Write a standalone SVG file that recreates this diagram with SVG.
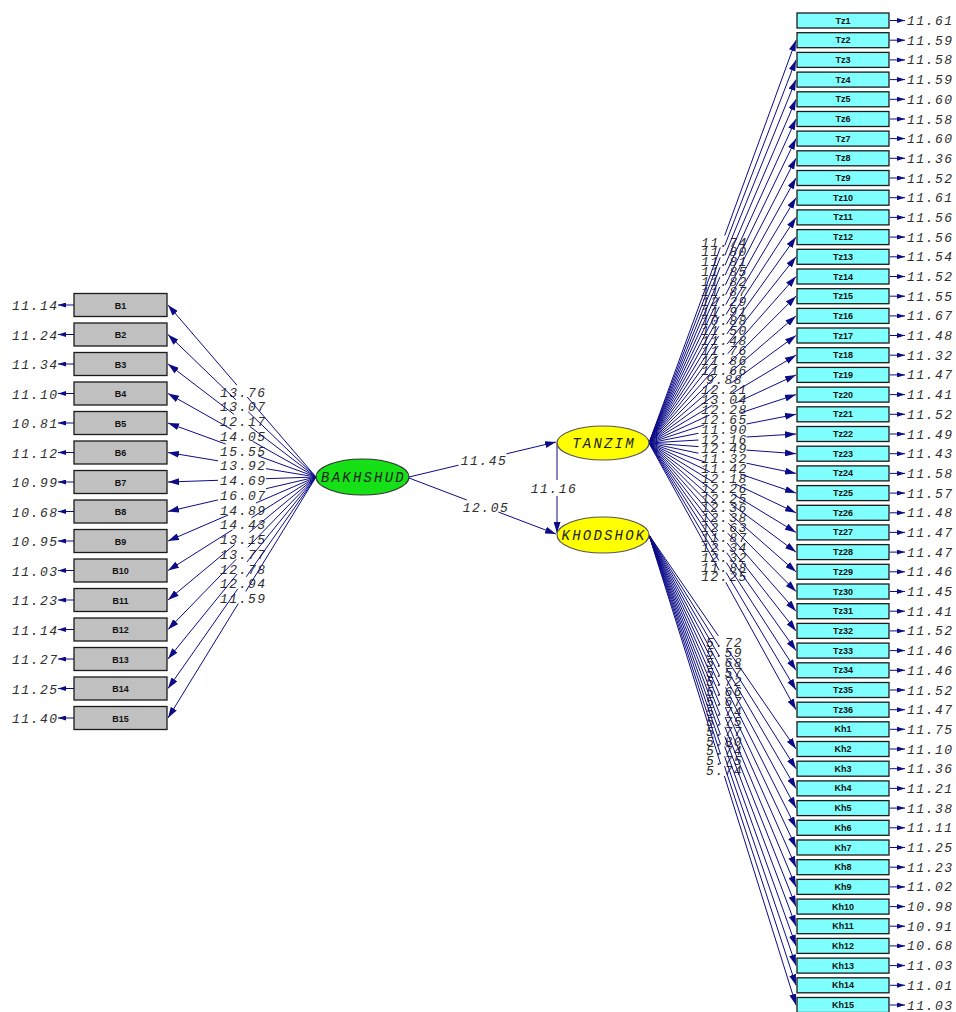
<svg xmlns="http://www.w3.org/2000/svg" width="956" height="1012" viewBox="0 0 956 1012">
<defs>
<style>
.ln{fill:none;stroke:#0c0c88;stroke-width:1}
.bx{fill:#c0c0c0;stroke:#1a1a1a;stroke-width:1.3}
.cx{fill:#80ffff;stroke:#1a1a1a;stroke-width:1.3}
.bl{font-family:"Liberation Sans",Arial,sans-serif;font-weight:bold;font-size:9px;fill:#111;text-anchor:middle}
.v{font-family:"Liberation Mono",monospace;font-style:italic;font-size:13px;letter-spacing:1.5px;fill:#2e2e2e}
.ve{text-anchor:end}
.vm{text-anchor:middle}
.el{font-family:"Liberation Mono",monospace;font-style:italic;font-size:14px;letter-spacing:2.2px;fill:#222;text-anchor:middle}
</style>
<marker id="ah" markerWidth="11" markerHeight="7" refX="11" refY="3.5" orient="auto" markerUnits="userSpaceOnUse"><path d="M0,0 L11,3.5 L0,7 z" fill="#0c0c88"/></marker>
<marker id="ae" markerWidth="8" markerHeight="5" refX="8" refY="2.5" orient="auto" markerUnits="userSpaceOnUse"><path d="M0,0 L8,2.5 L0,5 z" fill="#0c0c88"/></marker>
</defs>
<rect width="956" height="1012" fill="#ffffff"/>

<g id="path-labels" class="v vm">
<text x="243.3" y="396.5">13.76</text>
<text x="243.3" y="411.3">13.07</text>
<text x="243.3" y="426">12.17</text>
<text x="243.3" y="440.8">14.05</text>
<text x="243.3" y="455.5">15.55</text>
<text x="243.3" y="470.3">13.92</text>
<text x="243.3" y="485">14.69</text>
<text x="243.3" y="499.8">16.07</text>
<text x="243.3" y="514.5">14.89</text>
<text x="243.3" y="529.3">14.43</text>
<text x="243.3" y="544">13.15</text>
<text x="243.3" y="558.8">13.77</text>
<text x="243.3" y="573.5">12.78</text>
<text x="243.3" y="588.3">12.94</text>
<text x="243.3" y="603">11.59</text>
<text x="484" y="464.5">11.45</text>
<text x="486" y="511.5">12.05</text>
<text x="554" y="492.5">11.16</text>
<text x="724.5" y="246.6">11.74</text>
<text x="724.5" y="256.4">11.80</text>
<text x="724.5" y="266.3">11.81</text>
<text x="724.5" y="276.1">11.85</text>
<text x="724.5" y="286">11.82</text>
<text x="724.5" y="295.8">11.87</text>
<text x="724.5" y="305.7">12.29</text>
<text x="724.5" y="315.5">11.91</text>
<text x="724.5" y="325.4">10.88</text>
<text x="724.5" y="335.2">11.50</text>
<text x="724.5" y="345">11.48</text>
<text x="724.5" y="354.9">11.76</text>
<text x="724.5" y="364.7">11.86</text>
<text x="724.5" y="374.6">11.66</text>
<text x="724.5" y="384.4">9.88</text>
<text x="724.5" y="394.3">12.21</text>
<text x="724.5" y="404.1">13.04</text>
<text x="724.5" y="414">12.28</text>
<text x="724.5" y="423.8">12.65</text>
<text x="724.5" y="433.7">11.90</text>
<text x="724.5" y="443.5">12.16</text>
<text x="724.5" y="453.3">12.49</text>
<text x="724.5" y="463.2">11.32</text>
<text x="724.5" y="473">11.42</text>
<text x="724.5" y="482.9">12.18</text>
<text x="724.5" y="492.7">12.26</text>
<text x="724.5" y="502.6">12.25</text>
<text x="724.5" y="512.4">12.36</text>
<text x="724.5" y="522.3">12.38</text>
<text x="724.5" y="532.1">12.63</text>
<text x="724.5" y="542">11.87</text>
<text x="724.5" y="551.8">12.34</text>
<text x="724.5" y="561.6">12.32</text>
<text x="724.5" y="571.5">11.88</text>
<text x="724.5" y="581.3">12.25</text>
<text x="724.5" y="647">5.72</text>
<text x="724.5" y="656.9">5.59</text>
<text x="724.5" y="666.7">5.68</text>
<text x="724.5" y="676.6">5.57</text>
<text x="724.5" y="686.4">5.72</text>
<text x="724.5" y="696.2">5.66</text>
<text x="724.5" y="706.1">5.67</text>
<text x="724.5" y="715.9">5.74</text>
<text x="724.5" y="725.8">5.75</text>
<text x="724.5" y="735.6">5.77</text>
<text x="724.5" y="745.5">5.80</text>
<text x="724.5" y="755.3">5.74</text>
<text x="724.5" y="765.2">5.75</text>
<text x="724.5" y="775">5.74</text>
</g>

<g id="connectors" class="ln">
<path marker-end="url(#ah)" d="M316,477 L247.2,397 M236.8,385 L168,305"/>
<path marker-end="url(#ah)" d="M316,477 L248.2,411.8 M235.8,399.8 L168,334.5"/>
<path marker-end="url(#ah)" d="M316,477 L249.9,426.5 M234.1,414.5 L168,364"/>
<path marker-end="url(#ah)" d="M316,477 L252.6,441.3 M231.4,429.3 L168,393.5"/>
<path marker-end="url(#ah)" d="M316,477 L258.4,456 M225.6,444 L168,423"/>
<path marker-end="url(#ah)" d="M316,477 L266,468.7 M218,460.8 L168,452.5"/>
<path marker-end="url(#ah)" d="M316,477 L266,478.7 M218,480.3 L168,482"/>
<path marker-end="url(#ah)" d="M316,477 L266,488.7 M218,499.9 L168,511.5"/>
<path marker-end="url(#ah)" d="M316,477 L255.9,503 M228.1,515 L168,541"/>
<path marker-end="url(#ah)" d="M316,477 L251.5,517.8 M232.5,529.8 L168,570.5"/>
<path marker-end="url(#ah)" d="M316,477 L249.2,532.5 M234.8,544.5 L168,600"/>
<path marker-end="url(#ah)" d="M316,477 L247.8,547.3 M236.2,559.3 L168,629.5"/>
<path marker-end="url(#ah)" d="M316,477 L246.9,562 M237.1,574 L168,659"/>
<path marker-end="url(#ah)" d="M316,477 L246.2,576.8 M237.8,588.8 L168,688.5"/>
<path marker-end="url(#ah)" d="M316,477 L245.7,591.5 M238.3,603.5 L168,718"/>

<path marker-end="url(#ah)" d="M409,477 L458.5,465.2 M506.5,453.8 L556,442"/>
<path marker-end="url(#ah)" d="M409,478 L466.8,500 M498.3,512 L556,534"/>
<path marker-end="url(#ah)" d="M557,443 L557,480 M557,496 L557,533"/>

<path marker-end="url(#ah)" d="M649,443 L720.3,247.6 M724.7,235.6 L796,40.2"/>
<path marker-end="url(#ah)" d="M649,443 L720.2,257.4 M724.8,245.4 L796,59.9"/>
<path marker-end="url(#ah)" d="M649,443 L720.1,267.3 M724.9,255.3 L796,79.6"/>
<path marker-end="url(#ah)" d="M649,443 L719.9,277.1 M725.1,265.1 L796,99.3"/>
<path marker-end="url(#ah)" d="M649,443 L719.8,287 M725.2,275 L796,119"/>
<path marker-end="url(#ah)" d="M649,443 L719.6,296.8 M725.4,284.8 L796,138.6"/>
<path marker-end="url(#ah)" d="M649,443 L719.4,306.7 M725.6,294.7 L796,158.3"/>
<path marker-end="url(#ah)" d="M649,443 L719.2,316.5 M725.8,304.5 L796,178"/>
<path marker-end="url(#ah)" d="M649,443 L718.9,326.4 M726.1,314.4 L796,197.7"/>
<path marker-end="url(#ah)" d="M649,443 L718.6,336.2 M726.4,324.2 L796,217.4"/>
<path marker-end="url(#ah)" d="M649,443 L718.2,346 M726.8,334 L796,237.1"/>
<path marker-end="url(#ah)" d="M649,443 L717.8,355.9 M727.2,343.9 L796,256.8"/>
<path marker-end="url(#ah)" d="M649,443 L717.2,365.7 M727.8,353.7 L796,276.5"/>
<path marker-end="url(#ah)" d="M649,443 L716.5,375.6 M728.5,363.6 L796,296.2"/>
<path marker-end="url(#ah)" d="M649,443 L715.6,385.4 M729.4,373.4 L796,315.9"/>
<path marker-end="url(#ah)" d="M649,443 L714.3,395.3 M730.7,383.3 L796,335.5"/>
<path marker-end="url(#ah)" d="M649,443 L712.5,405.1 M732.6,393.1 L796,355.2"/>
<path marker-end="url(#ah)" d="M649,443 L709.5,415 M735.5,403 L796,374.9"/>
<path marker-end="url(#ah)" d="M649,443 L704.3,424.8 M740.7,412.8 L796,394.6"/>
<path marker-end="url(#ah)" d="M649,443 L698.5,433.3 M746.5,424 L796,414.3"/>
<path marker-end="url(#ah)" d="M649,443 L698.5,440 M746.5,437 L796,434"/>
<path marker-end="url(#ah)" d="M649,443 L698.5,446.6 M746.5,450.1 L796,453.7"/>
<path marker-end="url(#ah)" d="M649,443 L698.5,453.2 M746.5,463.2 L796,473.4"/>
<path marker-end="url(#ah)" d="M649,443 L704.9,462 M740.1,474 L796,493.1"/>
<path marker-end="url(#ah)" d="M649,443 L709.9,471.9 M735.2,483.9 L796,512.8"/>
<path marker-end="url(#ah)" d="M649,443 L712.6,481.7 M732.4,493.7 L796,532.4"/>
<path marker-end="url(#ah)" d="M649,443 L714.4,491.6 M730.6,503.6 L796,552.1"/>
<path marker-end="url(#ah)" d="M649,443 L715.7,501.4 M729.4,513.4 L796,571.8"/>
<path marker-end="url(#ah)" d="M649,443 L716.6,511.3 M728.4,523.3 L796,591.5"/>
<path marker-end="url(#ah)" d="M649,443 L717.3,521.1 M727.7,533.1 L796,611.2"/>
<path marker-end="url(#ah)" d="M649,443 L717.8,531 M727.2,543 L796,630.9"/>
<path marker-end="url(#ah)" d="M649,443 L718.3,540.8 M726.8,552.8 L796,650.6"/>
<path marker-end="url(#ah)" d="M649,443 L718.6,550.6 M726.4,562.6 L796,670.3"/>
<path marker-end="url(#ah)" d="M649,443 L718.9,560.5 M726.1,572.5 L796,690"/>
<path marker-end="url(#ah)" d="M649,443 L719.2,570.3 M725.8,582.3 L796,709.7"/>

<path marker-end="url(#ah)" d="M649,535 L718.4,636 M726.6,648 L796,749"/>
<path marker-end="url(#ah)" d="M649,535 L718.7,645.9 M726.3,657.9 L796,768.7"/>
<path marker-end="url(#ah)" d="M649,535 L719,655.7 M726,667.7 L796,788.4"/>
<path marker-end="url(#ah)" d="M649,535 L719.3,665.6 M725.7,677.6 L796,808.1"/>
<path marker-end="url(#ah)" d="M649,535 L719.5,675.4 M725.5,687.4 L796,827.8"/>
<path marker-end="url(#ah)" d="M649,535 L719.7,685.2 M725.3,697.2 L796,847.5"/>
<path marker-end="url(#ah)" d="M649,535 L719.8,695.1 M725.2,707.1 L796,867.2"/>
<path marker-end="url(#ah)" d="M649,535 L720,704.9 M725,716.9 L796,886.9"/>
<path marker-end="url(#ah)" d="M649,535 L720.1,714.8 M724.9,726.8 L796,906.6"/>
<path marker-end="url(#ah)" d="M649,535 L720.3,724.6 M724.8,736.6 L796,926.2"/>
<path marker-end="url(#ah)" d="M649,535 L720.4,734.5 M724.7,746.5 L796,945.9"/>
<path marker-end="url(#ah)" d="M649,535 L720.5,744.3 M724.6,756.3 L796,965.6"/>
<path marker-end="url(#ah)" d="M649,535 L720.5,754.2 M724.5,766.2 L796,985.3"/>
<path marker-end="url(#ah)" d="M649,535 L720.6,764 M724.4,776 L796,1005"/>

<g id="error-arrows-left">
<path marker-end="url(#ae)" d="M74,305 H58"/>
<path marker-end="url(#ae)" d="M74,334.5 H58"/>
<path marker-end="url(#ae)" d="M74,364 H58"/>
<path marker-end="url(#ae)" d="M74,393.5 H58"/>
<path marker-end="url(#ae)" d="M74,423 H58"/>
<path marker-end="url(#ae)" d="M74,452.5 H58"/>
<path marker-end="url(#ae)" d="M74,482 H58"/>
<path marker-end="url(#ae)" d="M74,511.5 H58"/>
<path marker-end="url(#ae)" d="M74,541 H58"/>
<path marker-end="url(#ae)" d="M74,570.5 H58"/>
<path marker-end="url(#ae)" d="M74,600 H58"/>
<path marker-end="url(#ae)" d="M74,629.5 H58"/>
<path marker-end="url(#ae)" d="M74,659 H58"/>
<path marker-end="url(#ae)" d="M74,688.5 H58"/>
<path marker-end="url(#ae)" d="M74,718 H58"/>
</g>
<g id="error-arrows-right">
<path marker-end="url(#ae)" d="M890,20.5 H905"/>
<path marker-end="url(#ae)" d="M890,40.2 H905"/>
<path marker-end="url(#ae)" d="M890,59.9 H905"/>
<path marker-end="url(#ae)" d="M890,79.6 H905"/>
<path marker-end="url(#ae)" d="M890,99.3 H905"/>
<path marker-end="url(#ae)" d="M890,119 H905"/>
<path marker-end="url(#ae)" d="M890,138.6 H905"/>
<path marker-end="url(#ae)" d="M890,158.3 H905"/>
<path marker-end="url(#ae)" d="M890,178 H905"/>
<path marker-end="url(#ae)" d="M890,197.7 H905"/>
<path marker-end="url(#ae)" d="M890,217.4 H905"/>
<path marker-end="url(#ae)" d="M890,237.1 H905"/>
<path marker-end="url(#ae)" d="M890,256.8 H905"/>
<path marker-end="url(#ae)" d="M890,276.5 H905"/>
<path marker-end="url(#ae)" d="M890,296.2 H905"/>
<path marker-end="url(#ae)" d="M890,315.9 H905"/>
<path marker-end="url(#ae)" d="M890,335.5 H905"/>
<path marker-end="url(#ae)" d="M890,355.2 H905"/>
<path marker-end="url(#ae)" d="M890,374.9 H905"/>
<path marker-end="url(#ae)" d="M890,394.6 H905"/>
<path marker-end="url(#ae)" d="M890,414.3 H905"/>
<path marker-end="url(#ae)" d="M890,434 H905"/>
<path marker-end="url(#ae)" d="M890,453.7 H905"/>
<path marker-end="url(#ae)" d="M890,473.4 H905"/>
<path marker-end="url(#ae)" d="M890,493.1 H905"/>
<path marker-end="url(#ae)" d="M890,512.8 H905"/>
<path marker-end="url(#ae)" d="M890,532.4 H905"/>
<path marker-end="url(#ae)" d="M890,552.1 H905"/>
<path marker-end="url(#ae)" d="M890,571.8 H905"/>
<path marker-end="url(#ae)" d="M890,591.5 H905"/>
<path marker-end="url(#ae)" d="M890,611.2 H905"/>
<path marker-end="url(#ae)" d="M890,630.9 H905"/>
<path marker-end="url(#ae)" d="M890,650.6 H905"/>
<path marker-end="url(#ae)" d="M890,670.3 H905"/>
<path marker-end="url(#ae)" d="M890,690 H905"/>
<path marker-end="url(#ae)" d="M890,709.7 H905"/>
<path marker-end="url(#ae)" d="M890,729.3 H905"/>
<path marker-end="url(#ae)" d="M890,749 H905"/>
<path marker-end="url(#ae)" d="M890,768.7 H905"/>
<path marker-end="url(#ae)" d="M890,788.4 H905"/>
<path marker-end="url(#ae)" d="M890,808.1 H905"/>
<path marker-end="url(#ae)" d="M890,827.8 H905"/>
<path marker-end="url(#ae)" d="M890,847.5 H905"/>
<path marker-end="url(#ae)" d="M890,867.2 H905"/>
<path marker-end="url(#ae)" d="M890,886.9 H905"/>
<path marker-end="url(#ae)" d="M890,906.6 H905"/>
<path marker-end="url(#ae)" d="M890,926.2 H905"/>
<path marker-end="url(#ae)" d="M890,945.9 H905"/>
<path marker-end="url(#ae)" d="M890,965.6 H905"/>
<path marker-end="url(#ae)" d="M890,985.3 H905"/>
<path marker-end="url(#ae)" d="M890,1005 H905"/>
</g>
</g>

<g id="error-values" class="v">
<g class="ve">
<text x="58.5" y="310">11.14</text>
<text x="58.5" y="339.5">11.24</text>
<text x="58.5" y="369">11.34</text>
<text x="58.5" y="398.5">11.10</text>
<text x="58.5" y="428">10.81</text>
<text x="58.5" y="457.5">11.12</text>
<text x="58.5" y="487">10.99</text>
<text x="58.5" y="516.5">10.68</text>
<text x="58.5" y="546">10.95</text>
<text x="58.5" y="575.5">11.03</text>
<text x="58.5" y="605">11.23</text>
<text x="58.5" y="634.5">11.14</text>
<text x="58.5" y="664">11.27</text>
<text x="58.5" y="693.5">11.25</text>
<text x="58.5" y="723">11.40</text>
</g>
<text x="907" y="25">11.61</text>
<text x="907" y="44.7">11.59</text>
<text x="907" y="64.4">11.58</text>
<text x="907" y="84.1">11.59</text>
<text x="907" y="103.8">11.60</text>
<text x="907" y="123.5">11.58</text>
<text x="907" y="143.1">11.60</text>
<text x="907" y="162.8">11.36</text>
<text x="907" y="182.5">11.52</text>
<text x="907" y="202.2">11.61</text>
<text x="907" y="221.9">11.56</text>
<text x="907" y="241.6">11.56</text>
<text x="907" y="261.3">11.54</text>
<text x="907" y="281">11.52</text>
<text x="907" y="300.7">11.55</text>
<text x="907" y="320.4">11.67</text>
<text x="907" y="340">11.48</text>
<text x="907" y="359.7">11.32</text>
<text x="907" y="379.4">11.47</text>
<text x="907" y="399.1">11.41</text>
<text x="907" y="418.8">11.52</text>
<text x="907" y="438.5">11.49</text>
<text x="907" y="458.2">11.43</text>
<text x="907" y="477.9">11.58</text>
<text x="907" y="497.6">11.57</text>
<text x="907" y="517.3">11.48</text>
<text x="907" y="536.9">11.47</text>
<text x="907" y="556.6">11.47</text>
<text x="907" y="576.3">11.46</text>
<text x="907" y="596">11.45</text>
<text x="907" y="615.7">11.41</text>
<text x="907" y="635.4">11.52</text>
<text x="907" y="655.1">11.46</text>
<text x="907" y="674.8">11.46</text>
<text x="907" y="694.5">11.52</text>
<text x="907" y="714.2">11.47</text>
<text x="907" y="733.8">11.75</text>
<text x="907" y="753.5">11.10</text>
<text x="907" y="773.2">11.36</text>
<text x="907" y="792.9">11.21</text>
<text x="907" y="812.6">11.38</text>
<text x="907" y="832.3">11.11</text>
<text x="907" y="852">11.25</text>
<text x="907" y="871.7">11.23</text>
<text x="907" y="891.4">11.02</text>
<text x="907" y="911.1">10.98</text>
<text x="907" y="930.7">10.91</text>
<text x="907" y="950.4">10.68</text>
<text x="907" y="970.1">11.03</text>
<text x="907" y="989.8">11.01</text>
<text x="907" y="1009.5">11.03</text>
</g>

<g id="BAKHSHUD"><ellipse cx="362.5" cy="477" rx="46.5" ry="18" fill="#16e016" stroke="#333" stroke-width="1.2"/><text class="el" x="363.5" y="482">BAKHSHUD</text></g>
<g id="TANZIM"><ellipse cx="603" cy="443" rx="46" ry="17" fill="#ffff00" stroke="#555" stroke-width="1.2"/><text class="el" x="604" y="448">TANZIM</text></g>
<g id="KHODSHOK"><ellipse cx="603" cy="535" rx="46" ry="18" fill="#ffff00" stroke="#555" stroke-width="1.2"/><text class="el" x="604" y="540">KHODSHOK</text></g>

<g id="B1"><rect class="bx" x="74" y="293.5" width="93" height="23"/><text class="bl" x="120.5" y="308.5">B1</text></g>
<g id="B2"><rect class="bx" x="74" y="323" width="93" height="23"/><text class="bl" x="120.5" y="338">B2</text></g>
<g id="B3"><rect class="bx" x="74" y="352.5" width="93" height="23"/><text class="bl" x="120.5" y="367.5">B3</text></g>
<g id="B4"><rect class="bx" x="74" y="382" width="93" height="23"/><text class="bl" x="120.5" y="397">B4</text></g>
<g id="B5"><rect class="bx" x="74" y="411.5" width="93" height="23"/><text class="bl" x="120.5" y="426.5">B5</text></g>
<g id="B6"><rect class="bx" x="74" y="441" width="93" height="23"/><text class="bl" x="120.5" y="456">B6</text></g>
<g id="B7"><rect class="bx" x="74" y="470.5" width="93" height="23"/><text class="bl" x="120.5" y="485.5">B7</text></g>
<g id="B8"><rect class="bx" x="74" y="500" width="93" height="23"/><text class="bl" x="120.5" y="515">B8</text></g>
<g id="B9"><rect class="bx" x="74" y="529.5" width="93" height="23"/><text class="bl" x="120.5" y="544.5">B9</text></g>
<g id="B10"><rect class="bx" x="74" y="559" width="93" height="23"/><text class="bl" x="120.5" y="574">B10</text></g>
<g id="B11"><rect class="bx" x="74" y="588.5" width="93" height="23"/><text class="bl" x="120.5" y="603.5">B11</text></g>
<g id="B12"><rect class="bx" x="74" y="618" width="93" height="23"/><text class="bl" x="120.5" y="633">B12</text></g>
<g id="B13"><rect class="bx" x="74" y="647.5" width="93" height="23"/><text class="bl" x="120.5" y="662.5">B13</text></g>
<g id="B14"><rect class="bx" x="74" y="677" width="93" height="23"/><text class="bl" x="120.5" y="692">B14</text></g>
<g id="B15"><rect class="bx" x="74" y="706.5" width="93" height="23"/><text class="bl" x="120.5" y="721.5">B15</text></g>

<g id="Tz1"><rect class="cx" x="797" y="13" width="92" height="15"/><text class="bl" x="843" y="23.5">Tz1</text></g>
<g id="Tz2"><rect class="cx" x="797" y="32.7" width="92" height="15"/><text class="bl" x="843" y="43.2">Tz2</text></g>
<g id="Tz3"><rect class="cx" x="797" y="52.4" width="92" height="15"/><text class="bl" x="843" y="62.9">Tz3</text></g>
<g id="Tz4"><rect class="cx" x="797" y="72.1" width="92" height="15"/><text class="bl" x="843" y="82.6">Tz4</text></g>
<g id="Tz5"><rect class="cx" x="797" y="91.8" width="92" height="15"/><text class="bl" x="843" y="102.3">Tz5</text></g>
<g id="Tz6"><rect class="cx" x="797" y="111.5" width="92" height="15"/><text class="bl" x="843" y="122">Tz6</text></g>
<g id="Tz7"><rect class="cx" x="797" y="131.1" width="92" height="15"/><text class="bl" x="843" y="141.6">Tz7</text></g>
<g id="Tz8"><rect class="cx" x="797" y="150.8" width="92" height="15"/><text class="bl" x="843" y="161.3">Tz8</text></g>
<g id="Tz9"><rect class="cx" x="797" y="170.5" width="92" height="15"/><text class="bl" x="843" y="181">Tz9</text></g>
<g id="Tz10"><rect class="cx" x="797" y="190.2" width="92" height="15"/><text class="bl" x="843" y="200.7">Tz10</text></g>
<g id="Tz11"><rect class="cx" x="797" y="209.9" width="92" height="15"/><text class="bl" x="843" y="220.4">Tz11</text></g>
<g id="Tz12"><rect class="cx" x="797" y="229.6" width="92" height="15"/><text class="bl" x="843" y="240.1">Tz12</text></g>
<g id="Tz13"><rect class="cx" x="797" y="249.3" width="92" height="15"/><text class="bl" x="843" y="259.8">Tz13</text></g>
<g id="Tz14"><rect class="cx" x="797" y="269" width="92" height="15"/><text class="bl" x="843" y="279.5">Tz14</text></g>
<g id="Tz15"><rect class="cx" x="797" y="288.7" width="92" height="15"/><text class="bl" x="843" y="299.2">Tz15</text></g>
<g id="Tz16"><rect class="cx" x="797" y="308.4" width="92" height="15"/><text class="bl" x="843" y="318.9">Tz16</text></g>
<g id="Tz17"><rect class="cx" x="797" y="328" width="92" height="15"/><text class="bl" x="843" y="338.5">Tz17</text></g>
<g id="Tz18"><rect class="cx" x="797" y="347.7" width="92" height="15"/><text class="bl" x="843" y="358.2">Tz18</text></g>
<g id="Tz19"><rect class="cx" x="797" y="367.4" width="92" height="15"/><text class="bl" x="843" y="377.9">Tz19</text></g>
<g id="Tz20"><rect class="cx" x="797" y="387.1" width="92" height="15"/><text class="bl" x="843" y="397.6">Tz20</text></g>
<g id="Tz21"><rect class="cx" x="797" y="406.8" width="92" height="15"/><text class="bl" x="843" y="417.3">Tz21</text></g>
<g id="Tz22"><rect class="cx" x="797" y="426.5" width="92" height="15"/><text class="bl" x="843" y="437">Tz22</text></g>
<g id="Tz23"><rect class="cx" x="797" y="446.2" width="92" height="15"/><text class="bl" x="843" y="456.7">Tz23</text></g>
<g id="Tz24"><rect class="cx" x="797" y="465.9" width="92" height="15"/><text class="bl" x="843" y="476.4">Tz24</text></g>
<g id="Tz25"><rect class="cx" x="797" y="485.6" width="92" height="15"/><text class="bl" x="843" y="496.1">Tz25</text></g>
<g id="Tz26"><rect class="cx" x="797" y="505.3" width="92" height="15"/><text class="bl" x="843" y="515.8">Tz26</text></g>
<g id="Tz27"><rect class="cx" x="797" y="524.9" width="92" height="15"/><text class="bl" x="843" y="535.4">Tz27</text></g>
<g id="Tz28"><rect class="cx" x="797" y="544.6" width="92" height="15"/><text class="bl" x="843" y="555.1">Tz28</text></g>
<g id="Tz29"><rect class="cx" x="797" y="564.3" width="92" height="15"/><text class="bl" x="843" y="574.8">Tz29</text></g>
<g id="Tz30"><rect class="cx" x="797" y="584" width="92" height="15"/><text class="bl" x="843" y="594.5">Tz30</text></g>
<g id="Tz31"><rect class="cx" x="797" y="603.7" width="92" height="15"/><text class="bl" x="843" y="614.2">Tz31</text></g>
<g id="Tz32"><rect class="cx" x="797" y="623.4" width="92" height="15"/><text class="bl" x="843" y="633.9">Tz32</text></g>
<g id="Tz33"><rect class="cx" x="797" y="643.1" width="92" height="15"/><text class="bl" x="843" y="653.6">Tz33</text></g>
<g id="Tz34"><rect class="cx" x="797" y="662.8" width="92" height="15"/><text class="bl" x="843" y="673.3">Tz34</text></g>
<g id="Tz35"><rect class="cx" x="797" y="682.5" width="92" height="15"/><text class="bl" x="843" y="693">Tz35</text></g>
<g id="Tz36"><rect class="cx" x="797" y="702.2" width="92" height="15"/><text class="bl" x="843" y="712.7">Tz36</text></g>
<g id="Kh1"><rect class="cx" x="797" y="721.8" width="92" height="15"/><text class="bl" x="843" y="732.3">Kh1</text></g>
<g id="Kh2"><rect class="cx" x="797" y="741.5" width="92" height="15"/><text class="bl" x="843" y="752">Kh2</text></g>
<g id="Kh3"><rect class="cx" x="797" y="761.2" width="92" height="15"/><text class="bl" x="843" y="771.7">Kh3</text></g>
<g id="Kh4"><rect class="cx" x="797" y="780.9" width="92" height="15"/><text class="bl" x="843" y="791.4">Kh4</text></g>
<g id="Kh5"><rect class="cx" x="797" y="800.6" width="92" height="15"/><text class="bl" x="843" y="811.1">Kh5</text></g>
<g id="Kh6"><rect class="cx" x="797" y="820.3" width="92" height="15"/><text class="bl" x="843" y="830.8">Kh6</text></g>
<g id="Kh7"><rect class="cx" x="797" y="840" width="92" height="15"/><text class="bl" x="843" y="850.5">Kh7</text></g>
<g id="Kh8"><rect class="cx" x="797" y="859.7" width="92" height="15"/><text class="bl" x="843" y="870.2">Kh8</text></g>
<g id="Kh9"><rect class="cx" x="797" y="879.4" width="92" height="15"/><text class="bl" x="843" y="889.9">Kh9</text></g>
<g id="Kh10"><rect class="cx" x="797" y="899.1" width="92" height="15"/><text class="bl" x="843" y="909.6">Kh10</text></g>
<g id="Kh11"><rect class="cx" x="797" y="918.7" width="92" height="15"/><text class="bl" x="843" y="929.2">Kh11</text></g>
<g id="Kh12"><rect class="cx" x="797" y="938.4" width="92" height="15"/><text class="bl" x="843" y="948.9">Kh12</text></g>
<g id="Kh13"><rect class="cx" x="797" y="958.1" width="92" height="15"/><text class="bl" x="843" y="968.6">Kh13</text></g>
<g id="Kh14"><rect class="cx" x="797" y="977.8" width="92" height="15"/><text class="bl" x="843" y="988.3">Kh14</text></g>
<g id="Kh15"><rect class="cx" x="797" y="997.5" width="92" height="15"/><text class="bl" x="843" y="1008">Kh15</text></g>
</svg>
